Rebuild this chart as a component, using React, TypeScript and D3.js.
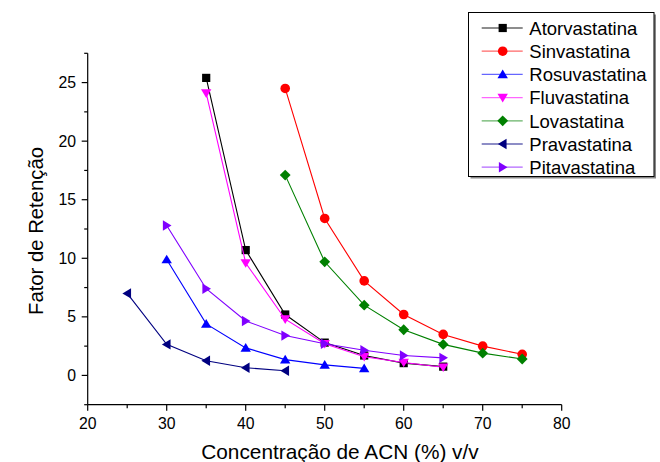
import React from "react";
import * as d3 from "d3";

const seriesNames = ["Atorvastatina", "Sinvastatina", "Rosuvastatina", "Fluvastatina", "Lovastatina", "Pravastatina", "Pitavastatina"];
const seriesColors = ["#000000", "#ff0000", "#0000ff", "#ff00ff", "#008000", "#000080", "#8000ff"];
const seriesMarkers = ["square", "circle", "up", "down", "diamond", "left", "right"];

const atorX = [35, 40, 45, 50, 55, 60, 65];
const atorY = [25.4, 10.7, 5.2, 2.8, 1.7, 1.05, 0.75];
const sinvX = [45, 50, 55, 60, 65, 70, 75];
const sinvY = [24.5, 13.4, 8.07, 5.2, 3.5, 2.5, 1.8];
const rosuX = [30, 35, 40, 45, 50, 55];
const rosuY = [9.9, 4.4, 2.35, 1.35, 0.9, 0.6];
const fluvX = [35, 40, 45, 50, 55, 60, 65];
const fluvY = [24.1, 9.6, 4.8, 2.7, 1.6, 1.1, 0.7];
const lovaX = [45, 50, 55, 60, 65, 70, 75];
const lovaY = [17.1, 9.7, 6.0, 3.9, 2.65, 1.9, 1.4];
const pravX = [25, 30, 35, 40, 45];
const pravY = [7.0, 2.65, 1.25, 0.65, 0.4];
const pitaX = [30, 35, 40, 45, 50, 55, 60, 65];
const pitaY = [12.8, 7.4, 4.65, 3.4, 2.7, 2.15, 1.7, 1.5];

const seriesX = [atorX, sinvX, rosuX, fluvX, lovaX, pravX, pitaX];
const seriesY = [atorY, sinvY, rosuY, fluvY, lovaY, pravY, pitaY];

const xTicks = [20, 30, 40, 50, 60, 70, 80];
const xMinor = [25, 35, 45, 55, 65, 75];
const yTicks = [0, 5, 10, 15, 20, 25];
const yMinor = [-2.5, 2.5, 7.5, 12.5, 17.5, 22.5, 27.5];

const xTitle = "Concentração de ACN (%) v/v";
const yTitle = "Fator de Retenção";

const FONT = "Liberation Sans, Arial, sans-serif";

function Marker({ type, x, y, color }: { type: string; x: number; y: number; color: string }) {
  const s = 4.8;
  switch (type) {
    case "square":
      return <rect x={x - 4.1} y={y - 4.1} width={8.2} height={8.2} fill={color} />;
    case "circle":
      return <circle cx={x} cy={y} r={4.8} fill={color} />;
    case "up":
      return <path d={`M${x},${y - s}L${x + s + 0.4},${y + s * 0.8}L${x - s - 0.4},${y + s * 0.8}Z`} fill={color} />;
    case "down":
      return <path d={`M${x},${y + s}L${x + s + 0.4},${y - s * 0.8}L${x - s - 0.4},${y - s * 0.8}Z`} fill={color} />;
    case "left":
      return <path d={`M${x - s},${y}L${x + s * 0.8},${y - s - 0.4}L${x + s * 0.8},${y + s + 0.4}Z`} fill={color} />;
    case "right":
      return <path d={`M${x + s},${y}L${x - s * 0.8},${y - s - 0.4}L${x - s * 0.8},${y + s + 0.4}Z`} fill={color} />;
    case "diamond":
      return <path d={`M${x},${y - 5.4}L${x + 5.4},${y}L${x},${y + 5.4}L${x - 5.4},${y}Z`} fill={color} />;
    default:
      return null;
  }
}

export default function App() {
  const W = 660, H = 462;
  const x = d3.scaleLinear().domain([20, 80]).range([87.7, 561.7]);
  const y = d3.scaleLinear().domain([-2.5, 27.5]).range([404.7, 53.3]);
  const line = d3.line<[number, number]>().x((d) => x(d[0])).y((d) => y(d[1]));

  const x0 = x(20), y0 = y(-2.5);

  const legX = 468.5, legY = 12.5, legW = 185.5, legH = 164;
  const rowY0 = 28, rowDy = 23.2;

  return (
    <svg width={W} height={H} style={{ position: "absolute", left: 0, top: 0, background: "#fff" }} fontFamily={FONT}>
      <rect width={W} height={H} fill="#fff" />
      {/* axes */}
      <line x1={x0} x2={x(80)} y1={y0} y2={y0} stroke="#000" strokeWidth={1.2} />
      <line x1={x0} x2={x0} y1={y0} y2={y(27.5)} stroke="#000" strokeWidth={1.2} />
      {xTicks.map((t) => (
        <g key={"xt" + t}>
          <line x1={x(t)} x2={x(t)} y1={y0} y2={y0 + 6} stroke="#000" strokeWidth={1.2} />
          <text x={x(t)} y={428.5} textAnchor="middle" fontSize={15.8} fill="#000">{t}</text>
        </g>
      ))}
      {xMinor.map((t) => (
        <line key={"xm" + t} x1={x(t)} x2={x(t)} y1={y0} y2={y0 + 3.5} stroke="#000" strokeWidth={1.2} />
      ))}
      {yTicks.map((t) => (
        <g key={"yt" + t}>
          <line x1={x0 - 6} x2={x0} y1={y(t)} y2={y(t)} stroke="#000" strokeWidth={1.2} />
          <text x={76} y={y(t) + 5.6} textAnchor="end" fontSize={15.8} fill="#000">{t}</text>
        </g>
      ))}
      {yMinor.map((t) => (
        <line key={"ym" + t} x1={x0 - 3.5} x2={x0} y1={y(t)} y2={y(t)} stroke="#000" strokeWidth={1.2} />
      ))}
      <text x={340} y={459} textAnchor="middle" fontSize={20.8} fill="#000">{xTitle}</text>
      <text transform={`translate(43,231) rotate(-90)`} textAnchor="middle" fontSize={20.3} fill="#000">{yTitle}</text>

      {/* series */}
      {seriesNames.map((name, i) => {
        const pts: [number, number][] = seriesX[i].map((v, j) => [v, seriesY[i][j]]);
        return (
          <g key={name}>
            <path d={line(pts) || ""} fill="none" stroke={seriesColors[i]} strokeWidth={1.1} />
            {pts.map((p, j) => (
              <Marker key={j} type={seriesMarkers[i]} x={x(p[0])} y={y(p[1])} color={seriesColors[i]} />
            ))}
          </g>
        );
      })}

      {/* legend */}
      <rect x={legX + 2} y={legY + 2} width={legW} height={legH} fill="#888" />
      <rect x={legX} y={legY} width={legW} height={legH} fill="#fff" stroke="#000" strokeWidth={1} />
      {seriesNames.map((name, i) => {
        const cy = rowY0 + i * rowDy;
        return (
          <g key={"lg" + name}>
            <line x1={481.7} x2={522.7} y1={cy} y2={cy} stroke={seriesColors[i]} strokeOpacity={0.6} strokeWidth={1.3} />
            <Marker type={seriesMarkers[i]} x={502.7} y={cy} color={seriesColors[i]} />
            <text x={529.3} y={cy + 6.7} fontSize={18.5} fill="#000">{name}</text>
          </g>
        );
      })}
    </svg>
  );
}
